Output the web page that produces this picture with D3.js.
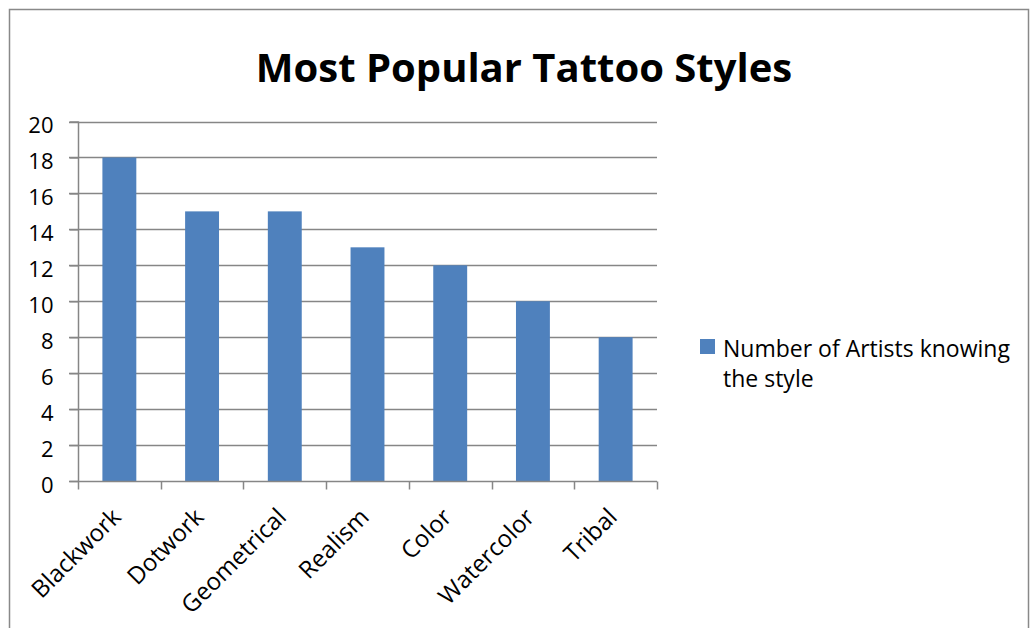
<!DOCTYPE html>
<html>
<head>
<meta charset="utf-8">
<script src="https://cdn.jsdelivr.net/npm/d3@7"></script>
<style>
  body { margin: 0; background: #fff; }
  text { font-family: "Open Sans", sans-serif; fill: #000; }
</style>
</head>
<body>
<div id="content"></div>
<script>
var width = 1032, height = 628;
var categories = ['Blackwork', 'Dotwork', 'Geometrical', 'Realism', 'Color', 'Watercolor', 'Tribal'];
var values = [18, 15, 15, 13, 12, 10, 8];
var yTicks = [0, 2, 4, 6, 8, 10, 12, 14, 16, 18, 20];
var seriesName = ['Number of Artists knowing', 'the style'];

var svg = d3.select('#content').append('svg').attr('width', width).attr('height', height);

// chart border
svg.append('rect')
  .attr('x', 9.5).attr('y', 9.5).attr('width', 1019).attr('height', 640)
  .style('fill', 'none').style('stroke', '#898989').style('stroke-width', 1.5)

svg.append('text')
  .attr('x', 524).attr('y', 82)
  .style('text-anchor', 'middle').style('font-weight', 'bold').style('font-size', '40px')
  .text('Most Popular Tattoo Styles')

var x = d3.scaleBand().domain(categories).range([78, 657]).paddingInner(0.59).paddingOuter(0.295);
var y = d3.scaleLinear().domain([0, 20]).range([481, 121.5]);

// gridlines
svg.append('g').selectAll('line').data(yTicks.slice(1)).enter().append('line')
  .attr('x1', 69).attr('x2', 657)
  .attr('y1', function(d){ return Math.round(y(d)) + 0.5 })
  .attr('y2', function(d){ return Math.round(y(d)) + 0.5 })
  .style('stroke', '#868686').style('stroke-width', 1.5)

svg.append('g').selectAll('rect').data(values).enter().append('rect')
  .attr('x', function(d, i){ return x(categories[i]) })
  .attr('y', function(d){ return y(d) })
  .attr('width', x.bandwidth())
  .attr('height', function(d){ return y(0) - y(d) })
  .style('fill', '#4F81BD')

// y axis
var yAxis = svg.append('g').attr('transform', 'translate(78.5,0)')
  .call(d3.axisLeft(y).tickValues(yTicks).tickSize(9).tickPadding(16));
yAxis.attr('font-size', null).attr('font-family', null);
yAxis.selectAll('line, path').style('stroke', '#868686').style('stroke-width', 1.5);
yAxis.select('.domain').attr('d', 'M0,' + y(20) + 'V' + y(0));
yAxis.selectAll('text').style('font-size', '22px').attr('dy', '0.5em');

// x axis
var edges = categories.map(function(c){ return x(c) - x.step() * x.paddingInner() / 2 }).concat([657]);
var xAxis = svg.append('g').attr('transform', 'translate(0,' + (Math.round(y(0)) + 0.5) + ')');
xAxis.append('line').attr('x1', 69).attr('x2', 657).style('stroke', '#868686').style('stroke-width', 1.5);
xAxis.selectAll('.tick').data(edges).enter().append('line')
  .attr('x1', function(d){ return Math.round(d) + 0.5 }).attr('x2', function(d){ return Math.round(d) + 0.5 })
  .attr('y1', 0).attr('y2', 8)
  .style('stroke', '#868686').style('stroke-width', 1.5)

xAxis.selectAll('text').data(categories).enter().append('text')
  .attr('transform', function(d){ return 'translate(' + (x(d) + x.bandwidth() / 2 + 3) + ',37) rotate(-45)' })
  .style('text-anchor', 'end').style('font-size', '24px')
  .text(function(d){ return d })

// legend
var legend = svg.append('g');
legend.append('rect').attr('x', 700).attr('y', 339).attr('width', 15).attr('height', 15).style('fill', '#4F81BD');
legend.selectAll('text').data(seriesName).enter().append('text')
  .attr('x', 723).attr('y', function(d, i){ return 357 + i * 30 })
  .style('font-size', '23px')
  .text(function(d){ return d })
</script>
</body>
</html>
